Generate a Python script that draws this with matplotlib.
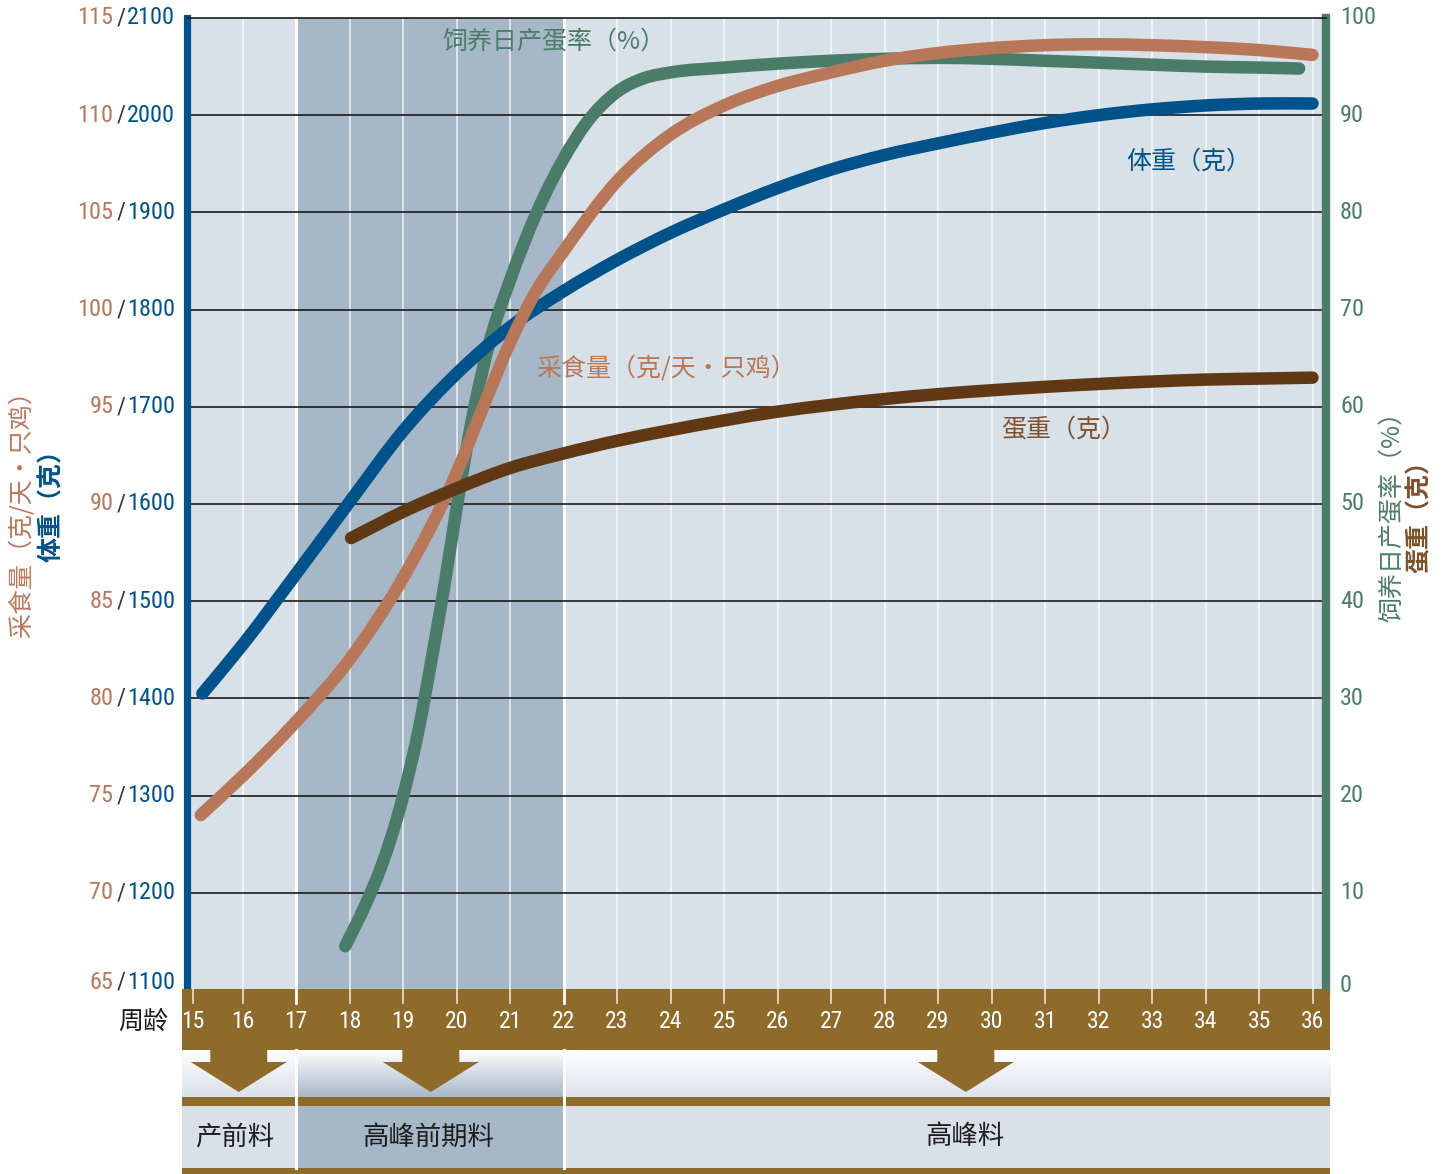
import numpy as np
import matplotlib
matplotlib.use('Agg')
import matplotlib.pyplot as plt
from matplotlib import font_manager
from matplotlib.colors import LinearSegmentedColormap
from matplotlib.patches import Rectangle, Polygon, PathPatch
from matplotlib.path import Path
import matplotlib.transforms as mtransforms

# ---- values ----
weeks = list(range(15, 37))

bw_weeks = [15.25, 16, 17, 18, 19, 20, 21, 22, 23, 24, 25, 26, 27, 28, 29, 30, 31, 32, 33, 34, 35, 36]
body_weight = [1405, 1455, 1528, 1602, 1675, 1734, 1782, 1819, 1851, 1879, 1903, 1925, 1944, 1959,
               1971, 1982, 1992, 2000, 2006, 2010, 2012, 2012]

feed_weeks = [15.22, 16, 17, 18, 19, 20, 20.5, 21, 21.5, 22, 23, 24,
              25, 26, 27, 28, 29, 30, 31, 32, 33, 34, 35, 36]
feed = [74.0, 76.0, 78.8, 82.0, 86.2, 91.6, 95.0, 98.3, 101.0, 103.0, 106.6, 109.0,
        110.5, 111.5, 112.2, 112.8, 113.2, 113.45, 113.6, 113.65, 113.6, 113.5, 113.35, 113.1]

lay_weeks = [17.92, 18.3, 18.6, 19.0, 19.3, 19.55, 19.8, 20.0, 20.3, 20.6, 21.0, 21.5, 22.0,
             22.4, 23.0, 23.5, 24.0, 25, 26, 27, 28, 29, 30, 31, 32, 33, 34, 35, 35.75]
lay_rate = [4.5, 8.8, 12.8, 19.9, 27.0, 34.5, 42.5, 49.5, 59.0, 66.3, 73.0, 80.0, 85.5,
            89.0, 92.4, 93.8, 94.4, 94.9, 95.3, 95.6, 95.8, 95.9, 95.8, 95.6, 95.4, 95.2,
            95.0, 94.9, 94.8]

egg_weeks = [18.03, 19, 20, 21, 22, 23, 24, 25, 26, 27, 28, 29, 30, 31, 32, 33, 34, 35, 36]
egg_weight = [46.5, 49.2, 51.6, 53.7, 55.2, 56.5, 57.6, 58.6, 59.5, 60.2, 60.8, 61.3, 61.7,
              62.05, 62.35, 62.6, 62.8, 62.9, 63.0]

bw_ticks = list(range(1100, 2101, 100))
feed_ticks = list(range(65, 116, 5))
pct_ticks = list(range(0, 101, 10))

phases = ['产前料', '高峰前期料', '高峰料']

# ---- styles ----
BLUE = '#00528a'
PINK = '#b9775a'
GREEN = '#4a7c69'
EGG = '#603813'
EGG_TXT = '#7d512c'
BAND = '#8e6a2b'
LIGHT = '#d9e1e8'
DARK = '#a6b8c8'
CJK = ['Noto Sans CJK SC', 'DejaVu Sans']


def pick(names):
    for n in names:
        try:
            font_manager.findfont(font_manager.FontProperties(family=n), fallback_to_default=False)
            return n
        except Exception:
            pass
    return 'DejaVu Sans'


NUM = [pick(['Liberation Sans Narrow', 'Roboto Condensed', 'Liberation Sans']), 'DejaVu Sans']
NUMSIZE = 17.5

W, H = 1450, 1174
fig = plt.figure(figsize=(W / 100, H / 100), dpi=100)


def fx(px):
    return px / W


def fy(py):
    return 1 - py / H


def wk(px):
    return 17 + (px - 296) / 53.5


def smooth(x, y):
    # draw the read points as a smooth cubic curve (hermite tangents, bezier segments)
    x = np.asarray(x, float)
    y = np.asarray(y, float)
    h = np.diff(x)
    d = np.diff(y) / h
    m = np.empty(len(x))
    m[0], m[-1] = d[0], d[-1]
    for i in range(1, len(x) - 1):
        m[i] = (d[i - 1] * h[i] + d[i] * h[i - 1]) / (h[i - 1] + h[i])
    verts = [(x[0], y[0])]
    codes = [Path.MOVETO]
    for i in range(len(x) - 1):
        verts += [(x[i] + h[i] / 3, y[i] + m[i] * h[i] / 3),
                  (x[i + 1] - h[i] / 3, y[i + 1] - m[i + 1] * h[i] / 3),
                  (x[i + 1], y[i + 1])]
        codes += [Path.CURVE4] * 3
    return Path(verts, codes)


X0, X1, Y0, Y1 = 186.5, 1326, 18, 990
rect = [fx(X0), fy(Y1), fx(X1) - fx(X0), fy(Y0) - fy(Y1)]
xlim = (wk(X0), wk(X1))

# base axes: background, shading, grid, spines
ax = fig.add_axes(rect)
ax.set_xlim(xlim)
ax.set_ylim(1100, 2100)
ax.set_facecolor(LIGHT)
ax.axvspan(17, 22, color=DARK, lw=0, zorder=0)
for w in weeks:
    if w in (17, 22):
        ax.axvline(w, color='white', lw=2.2, zorder=1)
    else:
        ax.axvline(w, color='white', lw=1.1, alpha=0.8, zorder=1)
for v in bw_ticks[1:-1]:
    ax.axhline(v, color='#1a1a1a', lw=1.2, zorder=1)
ax.set_xticks([])
ax.set_yticks([])
ax.spines['left'].set_color(BLUE)
ax.spines['left'].set_linewidth(5.2)
ax.spines['right'].set_color(GREEN)
ax.spines['right'].set_linewidth(6)
ax.spines['top'].set_color('#1a1a1a')
ax.spines['top'].set_linewidth(1.2)
ax.spines['bottom'].set_visible(False)


def overlay(ylim):
    a = fig.add_axes(rect)
    a.set_xlim(xlim)
    a.set_ylim(ylim)
    a.axis('off')
    a.patch.set_visible(False)
    return a


def curve(a, x, y, color):
    a.add_patch(PathPatch(smooth(x, y), fill=False, edgecolor=color, lw=9,
                          capstyle='round', joinstyle='round'))


ax_g = overlay((0, 100))
curve(ax_g, lay_weeks, lay_rate, GREEN)
ax_b = overlay((1100, 2100))
curve(ax_b, bw_weeks, body_weight, BLUE)
ax_f = overlay((65, 115))
curve(ax_f, feed_weeks, feed, PINK)
ax_e = overlay((0, 100))
curve(ax_e, egg_weeks, egg_weight, EGG)

# tick labels
tl = mtransforms.blended_transform_factory(fig.transFigure, ax.transData)
for bw, fd in zip(bw_ticks, feed_ticks):
    y = bw + (8 if bw == 1100 else 0)
    ax.text(fx(175), y, str(bw), transform=tl, ha='right', va='center', color=BLUE,
            fontsize=NUMSIZE, family=NUM)
    ax.text(fx(121), y, '/', transform=tl, ha='center', va='center', color='#333333',
            fontsize=NUMSIZE, family=NUM)
    ax.text(fx(113.5), y, str(fd), transform=tl, ha='right', va='center', color=PINK,
            fontsize=NUMSIZE, family=NUM)
tr = mtransforms.blended_transform_factory(fig.transFigure, ax_g.transData)
for p in pct_ticks:
    y = p + (0.5 if p == 0 else 0)
    ax_g.text(fx(1340), y, str(p), transform=tr, ha='left', va='center', color=GREEN,
              fontsize=NUMSIZE, family=NUM)

# axis titles
fig.text(fx(22), fy(508), '采食量（克/天・只鸡）', rotation=90, ha='center', va='center',
         color=PINK, fontsize=18, family=CJK)
fig.text(fx(52), fy(500), '体重（克）', rotation=90, ha='center', va='center',
         color=BLUE, fontsize=18, family=CJK, fontweight='bold')
fig.text(fx(1392), fy(510), '饲养日产蛋率（%）', rotation=90, ha='center', va='center',
         color=GREEN, fontsize=18, family=CJK)
fig.text(fx(1420), fy(511), '蛋重（克）', rotation=90, ha='center', va='center',
         color=EGG_TXT, fontsize=18, family=CJK, fontweight='bold')

# series labels inside the plot
fig.text(fx(442), fy(42), '饲养日产蛋率（%）', ha='left', va='center', color=GREEN,
         fontsize=18, family=CJK)
fig.text(fx(1126), fy(162), '体重（克）', ha='left', va='center', color=BLUE,
         fontsize=18, family=CJK)
fig.text(fx(536), fy(368), '采食量（克/天・只鸡）', ha='left', va='center', color=PINK,
         fontsize=18, family=CJK)
fig.text(fx(1001), fy(430), '蛋重（克）', ha='left', va='center', color=EGG_TXT,
         fontsize=18, family=CJK)

# ---- bottom band: weeks, arrows, feed phases ----
B0, B1 = 182, 1330
axb = fig.add_axes([fx(B0), 0, fx(B1) - fx(B0), 1])
axb.set_xlim(wk(B0), wk(B1))
axb.set_ylim(H, 0)
axb.axis('off')
axb.patch.set_visible(False)

L, R = wk(B0), wk(B1)
axb.add_patch(Rectangle((L, 989), R - L, 61, color=BAND, lw=0))
for w in weeks:
    xp = 15.075 if w == 15 else w
    axb.plot([xp, xp], [989, 1003], color='white', lw=2.0 if w in (17, 22) else 1.2,
             alpha=1 if w in (17, 22) else 0.8)
    axb.text(xp, 1022, str(w), ha='center', va='center', color='white', fontsize=17,
             family=NUM)
fig.text(fx(143), fy(1022), '周龄', ha='center', va='center', color='#1a1a1a', fontsize=18,
         family=CJK)

cols = [(L, 17, LIGHT), (17, 22, DARK), (22, R, '#dde3ea')]
grad = np.linspace(0, 1, 80)[:, None]
for a, b, c in cols:
    cm = LinearSegmentedColormap.from_list('g', ['white', c])
    axb.imshow(grad, cmap=cm, aspect='auto', extent=(a, b, 1097, 1050), origin='upper',
               interpolation='bilinear')
for a, b, c in cols:
    axb.add_patch(Rectangle((a, 1105), b - a, 63, color=(LIGHT if c != DARK else DARK), lw=0))
for w in (17, 22):
    axb.plot([w, w], [1050, 1168], color='white', lw=2.2)
axb.add_patch(Rectangle((L, 1097), R - L, 9, color=BAND, lw=0))
axb.add_patch(Rectangle((L, 1168), R - L, 8, color=BAND, lw=0))

shaft, head = 28.5 / 53.5, 48 / 53.5
for cx in (15.93, 19.52, 29.52):
    pts = [(cx - shaft, 1049), (cx + shaft, 1049), (cx + shaft, 1062), (cx + head, 1062),
           (cx, 1092), (cx - head, 1062), (cx - shaft, 1062)]
    axb.add_patch(Polygon(pts, closed=True, color=BAND, lw=0))

for name, cx in zip(phases, (15.85, 19.47, 29.5)):
    axb.text(cx, 1137, name, ha='center', va='center', color='#1e1e1e', fontsize=19,
             family=CJK)

axb.set_xlim(wk(B0), wk(B1))
axb.set_ylim(H, 0)

fig.savefig('out.png', dpi=100)
